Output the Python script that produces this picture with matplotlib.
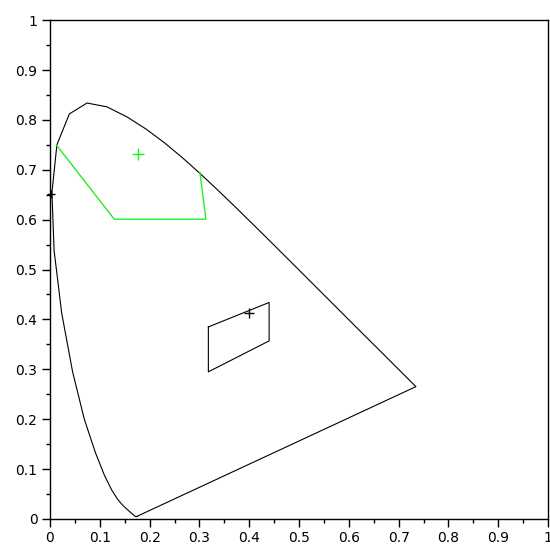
import matplotlib
matplotlib.use("Agg")
import matplotlib.pyplot as plt
from matplotlib.ticker import MultipleLocator

# CIE 1931 spectral locus (380-700 nm, 5 nm steps)
locus_x = [0.1741, 0.1740, 0.1738, 0.1736, 0.1733, 0.1730, 0.1726, 0.1721, 0.1714,
           0.1703, 0.1689, 0.1669, 0.1644, 0.1611, 0.1566, 0.1510, 0.1440, 0.1355,
           0.1241, 0.1096, 0.0913, 0.0687, 0.0454, 0.0235, 0.0082, 0.0039, 0.0139,
           0.0389, 0.0743, 0.1142, 0.1547, 0.1929, 0.2296, 0.2658, 0.3016, 0.3373,
           0.3731, 0.4087, 0.4441, 0.4788, 0.5125, 0.5448, 0.5752, 0.6029, 0.6270,
           0.6482, 0.6658, 0.6801, 0.6915, 0.7006, 0.7079, 0.7140, 0.7190, 0.7230,
           0.7260, 0.7283, 0.7300, 0.7311, 0.7320, 0.7327, 0.7334, 0.7340, 0.7344,
           0.7346, 0.7347]
locus_y = [0.0050, 0.0050, 0.0049, 0.0049, 0.0048, 0.0048, 0.0048, 0.0048, 0.0051,
           0.0058, 0.0069, 0.0086, 0.0109, 0.0138, 0.0177, 0.0227, 0.0297, 0.0399,
           0.0578, 0.0868, 0.1327, 0.2007, 0.2950, 0.4127, 0.5384, 0.6548, 0.7502,
           0.8120, 0.8338, 0.8262, 0.8059, 0.7816, 0.7543, 0.7243, 0.6923, 0.6589,
           0.6245, 0.5896, 0.5547, 0.5202, 0.4866, 0.4544, 0.4242, 0.3965, 0.3725,
           0.3514, 0.3340, 0.3197, 0.3083, 0.2993, 0.2920, 0.2859, 0.2809, 0.2770,
           0.2740, 0.2717, 0.2700, 0.2689, 0.2680, 0.2673, 0.2666, 0.2660, 0.2656,
           0.2654, 0.2653]

# green region and its centre
green_x = [0.0134, 0.129, 0.313, 0.301]
green_y = [0.749, 0.601, 0.601, 0.695]
green_cx, green_cy = 0.176, 0.731

# black quadrilateral and its point
quad_x = [0.318, 0.318, 0.440, 0.440, 0.318]
quad_y = [0.385, 0.295, 0.357, 0.434, 0.385]
pt_x, pt_y = 0.400, 0.413

# extra black point on the locus
edge_x, edge_y = 0.002, 0.651

fig = plt.figure(figsize=(5.5, 5.44), dpi=100)
ax = fig.add_axes([0.0909, 0.046, 0.9055, 0.917])

lx = locus_x + [locus_x[0]]
ly = locus_y + [locus_y[0]]
ax.plot(lx, ly, color="black", lw=0.8)

ax.plot(green_x, green_y, color="#22ee22", lw=1.0)
ax.plot(green_cx, green_cy, marker="+", color="#22ee22", ms=8, mew=1.0)

ax.plot(quad_x, quad_y, color="black", lw=0.8)
ax.plot(pt_x, pt_y, marker="+", color="black", ms=7, mew=1.0)
ax.plot(edge_x, edge_y, marker="+", color="black", ms=6, mew=1.0, clip_on=False)

ax.set_xlim(0, 1)
ax.set_ylim(0, 1)
ax.xaxis.set_major_locator(MultipleLocator(0.1))
ax.yaxis.set_major_locator(MultipleLocator(0.1))
ax.xaxis.set_minor_locator(MultipleLocator(0.05))
ax.yaxis.set_minor_locator(MultipleLocator(0.05))
ax.xaxis.set_major_formatter(plt.FuncFormatter(lambda v, p: f"{v:.1f}".rstrip("0").rstrip(".") if v not in (0, 1) else str(int(v))))
ax.yaxis.set_major_formatter(plt.FuncFormatter(lambda v, p: f"{v:.1f}".rstrip("0").rstrip(".") if v not in (0, 1) else str(int(v))))
ax.tick_params(which="major", direction="out", length=6, width=1, labelsize=10, pad=3)
ax.tick_params(which="minor", direction="out", length=3, width=1)
ax.tick_params(top=False, right=False)
for s in ax.spines.values():
    s.set_linewidth(1.0)

fig.savefig("out.png", dpi=100)
